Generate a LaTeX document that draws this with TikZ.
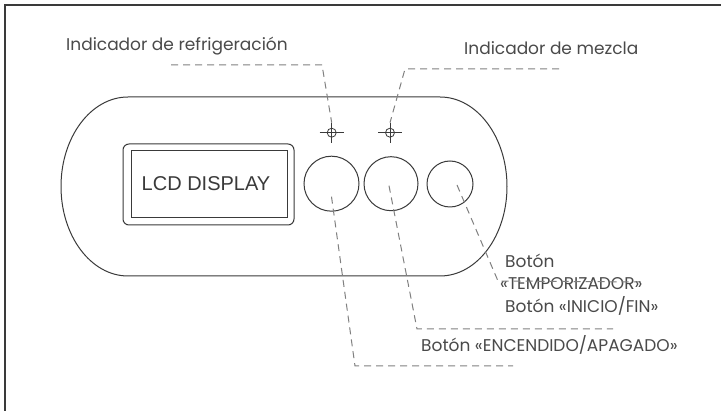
\documentclass[tikz,border=0pt]{standalone}
\usepackage{fontspec}
\setmainfont{Poppins}
\newfontfamily\arialfont{Liberation Sans}
\usetikzlibrary{calc}
\definecolor{ink}{HTML}{3A3A3A}
\definecolor{txt}{HTML}{4A4A4A}
\definecolor{lead}{HTML}{808080}
\begin{document}
\begin{tikzpicture}[x=1pt,y=-1pt,
  part/.style={draw=ink, line width=1pt},
  leader/.style={draw=lead, line width=1pt, dash pattern=on 7pt off 5pt},
  lbl/.style={anchor=base west, inner sep=0pt, text=txt, font=\fontsize{17}{20}\selectfont},
  button/.style={circle, draw=ink, line width=1pt, inner sep=0pt},
  cross/.style={circle, draw=ink, line width=0.8pt, minimum size=9pt, inner sep=0pt},
  crossline/.style={draw=ink, line width=0.8pt}]
\useasboundingbox (0,0) rectangle (721,411);
\fill[white] (0,0) rectangle (721,411);
\draw[ink, line width=1.5pt] (5,411) -- (5,5) -- (721,5);
% housing
\draw[part] (128,97) -- (440,97) .. controls (477,97) and (507,137) .. (507,186.5)
  .. controls (507,236) and (477,276) .. (440,276) -- (128,276)
  .. controls (91,276) and (61,236) .. (61,186.5)
  .. controls (61,137) and (91,97) .. (128,97) -- cycle;
% LCD
\node[draw=ink, line width=1pt, rounded corners=6pt, minimum width=171pt, minimum height=81pt, inner sep=0pt] (lcdout) at (208.5,184.5) {};
\node[draw=ink, line width=1pt, minimum width=156pt, minimum height=67pt, inner sep=0pt] (lcd) at (209,184.5) {};
\node[anchor=base, inner sep=0pt, font=\arialfont\fontsize{20}{24}\selectfont, text=ink] (lcdtext) at (206,190.7) {LCD DISPLAY};
% buttons
\node[button, minimum size=55pt] (b1) at (331.5,183.7) {};
\node[button, minimum size=54pt] (b2) at (391,183.7) {};
\node[button, minimum size=46pt] (b3) at (450,184) {};
% indicators
\node[cross] (x1) at (331.7,132.7) {};
\node[cross] (x2) at (390,132.7) {};
\draw[crossline] ($(x1)+(-12,0)$) -- ($(x1)+(12,0)$) ($(x1)+(0,-10)$) -- ($(x1)+(0,10)$);
\draw[crossline] ($(x2)+(-12,0)$) -- ($(x2)+(12,0)$) ($(x2)+(0,-10)$) -- ($(x2)+(0,10)$);
% leader points
\coordinate (r0) at (171,65); \coordinate (r1) at (322,65);
\coordinate (m0) at (559,69); \coordinate (m1) at (405,69);
\coordinate (t1) at (498,281); \coordinate (t2) at (642,282);
\coordinate (i1) at (417,329); \coordinate (i2) at (613,329);
\coordinate (e1) at (355,366); \coordinate (e2) at (513,366);
% labels
\node[lbl] (lref) at (66,51) {Indicador de refrigeración};
\node[lbl] (lmez) at (464,55) {Indicador de mezcla};
\node[lbl] (ltim1) at (505,268) {Botón};
\node[lbl] (ltim2) at (500,289.5) {«TEMPORIZADOR»};
\node[lbl] (lini) at (505,313) {Botón «INICIO/FIN»};
\node[lbl] (lenc) at (421,352) {Botón «ENCENDIDO/APAGADO»};
% leaders
\draw[leader] (r0) -- (r1) -- ($(x1)+(0,-10)$);
\draw[leader] (m0) -- (m1) -- ($(x2)+(0,-10)$);
\draw[leader] ($(b3)+(7,1)$) -- (t1) -- (t2);
\draw[leader] ($(b2)+(-2,2)$) -- (i1) -- (i2);
\draw[leader] ($(b1)+(0,13)$) -- (e1) -- (e2);
\end{tikzpicture}
\end{document}
